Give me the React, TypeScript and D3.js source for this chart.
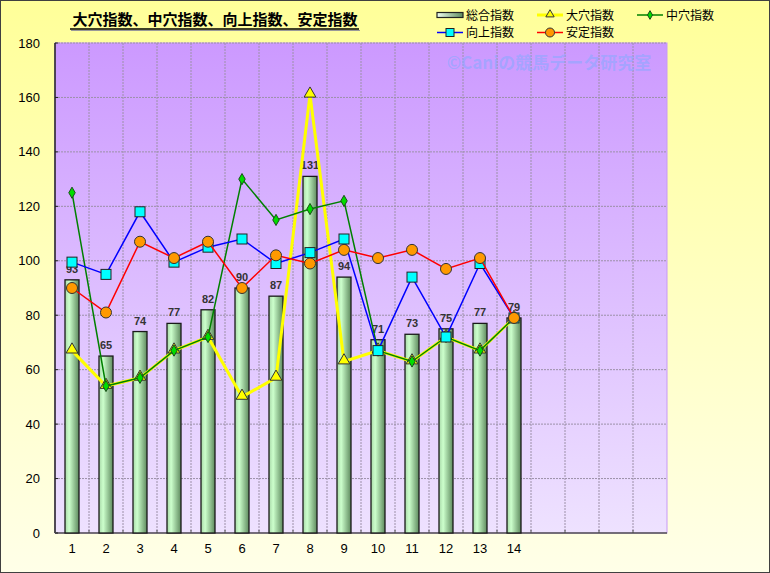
import React from "react";
import * as d3 from "d3";

const categories = ["1","2","3","4","5","6","7","8","9","10","11","12","13","14","","","",""];
const sogo = [93, 65, 74, 77, 82, 90, 87, 131, 94, 71, 73, 75, 77, 79];
const oana = [67, 54, 57, 67, 72, 50, 57, 161, 63, 67, 63, 72, 67, 79];
const chuana = [125, 54, 57, 67, 72, 130, 115, 119, 122, 67, 63, 72, 67, 79];
const kojo = [99.5, 95, 118, 99.5, 105, 108, 99, 103, 108, 67, 94, 72, 99, 79];
const antei = [90, 81, 107, 101, 107, 90, 102, 99, 104, 101, 104, 97, 101, 79];
const yTicks = [0, 20, 40, 60, 80, 100, 120, 140, 160, 180];

const W = 770, H = 573;
const PL = 55, PR = 667, PT = 43, PB = 533;
const JP = "'Noto Sans CJK JP', sans-serif";
const NUM = "'Liberation Sans', Arial, sans-serif";

export default function App() {
  const x = d3.scaleBand<string>().domain(categories.map((_, i) => String(i))).range([PL, PR]).padding(0);
  const y = d3.scaleLinear().domain([0, 180]).range([PB, PT]);
  const cx = (i: number) => (x(String(i)) as number) + x.bandwidth() / 2;
  const line = d3.line<number>().x((_, i) => cx(i)).y((d) => y(d));
  const barW = 14;

  const tri = d3.symbol().type(d3.symbolTriangle).size(60)();
  const dia = d3.symbol().type(d3.symbolDiamond).size(36)();

  return (
    <svg width={W} height={H} style={{ position: "absolute", left: 0, top: 0 }} xmlns="http://www.w3.org/2000/svg">
      <defs>
        <linearGradient id="bg" x1="0" y1="0" x2="0" y2="1">
          <stop offset="0" stopColor="#FFFF99" />
          <stop offset="1" stopColor="#FFFFE8" />
        </linearGradient>
        <linearGradient id="plot" x1="0" y1="0" x2="0" y2="1">
          <stop offset="0" stopColor="#CC99FF" />
          <stop offset="1" stopColor="#EEE2FF" />
        </linearGradient>
        <linearGradient id="bar" x1="0" y1="0" x2="1" y2="0">
          <stop offset="0" stopColor="#A8D8A8" />
          <stop offset="0.3" stopColor="#CCFFCC" />
          <stop offset="1" stopColor="#5E8A5E" />
        </linearGradient>
        <linearGradient id="legbar" x1="0" y1="0" x2="1" y2="0">
          <stop offset="0" stopColor="#F0FFF0" />
          <stop offset="1" stopColor="#5E8A5E" />
        </linearGradient>
      </defs>
      <rect x={0.5} y={0.5} width={W - 1} height={H - 1} fill="url(#bg)" stroke="#404040" strokeWidth={1} />
      <rect x={PL} y={PT} width={PR - PL} height={PB - PT} fill="url(#plot)" stroke="#C799F5" strokeWidth={1} />
      {/* grid */}
      {yTicks.slice(1).map((t) => (
        <line key={"h" + t} x1={PL} x2={PR} y1={y(t)} y2={y(t)} stroke="#9C90A8" strokeWidth={1} strokeDasharray="2,1" />
      ))}
      {categories.slice(1).map((_, i) => {
        const xx = x(String(i + 1)) as number;
        return <line key={"v" + i} x1={xx} x2={xx} y1={PT} y2={PB} stroke="#9C90A8" strokeWidth={1} strokeDasharray="2,1" />;
      })}
      {/* watermark */}
      <text x={549} y={69} textAnchor="middle" fontFamily={JP} fontWeight="bold" fontSize={17} fill="#8FA8FF" fillOpacity={0.65}>©Caniの競馬データ研究室</text>
      {/* axes */}
      <line x1={PL} x2={PL} y1={PT} y2={PB} stroke="#202020" strokeWidth={1.5} />
      <line x1={PL} x2={PR} y1={PB} y2={PB} stroke="#505050" strokeWidth={1.5} />
      {yTicks.map((t) => (
        <g key={"yt" + t}>
          <line x1={PL} x2={PL + 3} y1={y(t)} y2={y(t)} stroke="#202020" />
          <text x={40} y={y(t) + 4.5} textAnchor="end" fontFamily={NUM} fontSize={13} fill="#000">{t}</text>
        </g>
      ))}
      {categories.map((_, i) => {
        const xx = x(String(i)) as number;
        return <line key={"xt" + i} x1={xx} x2={xx} y1={PB} y2={PB - 3} stroke="#505050" />;
      })}
      {categories.map((c, i) => (
        <text key={"xl" + i} x={cx(i)} y={553} textAnchor="middle" fontFamily={NUM} fontSize={13} fill="#000">{c}</text>
      ))}
      {/* bars */}
      {sogo.map((v, i) => (
        <g key={"b" + i}>
          <rect x={cx(i) - barW / 2} y={y(v)} width={barW} height={PB - y(v)} fill="url(#bar)" stroke="#1A1A1A" strokeWidth={1.3} />
          <text x={cx(i)} y={y(v) - 7} textAnchor="middle" fontFamily={NUM} fontWeight="bold" fontSize={11} fill="#333">{v}</text>
        </g>
      ))}
      {/* yellow */}
      <path d={line(oana) as string} fill="none" stroke="#FFFF00" strokeWidth={3} />
      {oana.map((v, i) => (
        <path key={"t" + i} d={tri as string} transform={`translate(${cx(i)},${y(v) - 1})`} fill="#FFFF00" stroke="#333" strokeWidth={1} />
      ))}
      {/* green */}
      <path d={line(chuana) as string} fill="none" stroke="#008000" strokeWidth={1.5} />
      {chuana.map((v, i) => (
        <path key={"d" + i} d={dia as string} transform={`translate(${cx(i)},${y(v)})`} fill="#00DD00" stroke="#1A4D1A" strokeWidth={1} />
      ))}
      {/* blue */}
      <path d={line(kojo) as string} fill="none" stroke="#0000FF" strokeWidth={1.5} />
      {kojo.map((v, i) => (
        <rect key={"s" + i} x={cx(i) - 5} y={y(v) - 5} width={10} height={10} fill="#00FFFF" stroke="#222" strokeWidth={1} />
      ))}
      {/* orange */}
      <path d={line(antei) as string} fill="none" stroke="#FF0000" strokeWidth={1.5} />
      {antei.map((v, i) => (
        <circle key={"c" + i} cx={cx(i)} cy={y(v)} r={5.5} fill="#FF9900" stroke="#333" strokeWidth={1} />
      ))}
      {/* title */}
      <text x={215} y={25} textAnchor="middle" fontFamily={JP} fontWeight="bold" fontSize={15} fill="#000">大穴指数、中穴指数、向上指数、安定指数</text>
      <line x1={70} x2={359} y1={29} y2={29} stroke="#000" strokeWidth={1.3} />
      <line x1={71} x2={360} y1={30.5} y2={30.5} stroke="#999" strokeWidth={1} />
      {/* legend */}
      <g fontFamily={JP} fontSize={12} fill="#000">
        <rect x={437} y={12.5} width={26} height={5} fill="url(#legbar)" stroke="#222" strokeWidth={1.2} />
        <text x={466} y={19.5}>総合指数</text>
        <line x1={537} x2={563} y1={15} y2={15} stroke="#FFFF00" strokeWidth={3} />
        <path d={d3.symbol().type(d3.symbolTriangle).size(30)() as string} transform="translate(550,14.5)" fill="#FFFF00" stroke="#333" />
        <text x={566} y={19.5}>大穴指数</text>
        <line x1={637} x2={663} y1={15} y2={15} stroke="#008000" strokeWidth={1.5} />
        <path d={d3.symbol().type(d3.symbolDiamond).size(22)() as string} transform="translate(650,15)" fill="#00DD00" stroke="#1A4D1A" />
        <text x={666} y={19.5}>中穴指数</text>
        <line x1={437} x2={463} y1={32.5} y2={32.5} stroke="#0000FF" strokeWidth={1.5} />
        <rect x={446} y={28.5} width={8} height={8} fill="#00FFFF" stroke="#222" />
        <text x={466} y={37}>向上指数</text>
        <line x1={537} x2={563} y1={32.5} y2={32.5} stroke="#FF0000" strokeWidth={1.5} />
        <circle cx={550} cy={32.5} r={4.5} fill="#FF9900" stroke="#333" />
        <text x={566} y={37}>安定指数</text>
      </g>
    </svg>
  );
}
